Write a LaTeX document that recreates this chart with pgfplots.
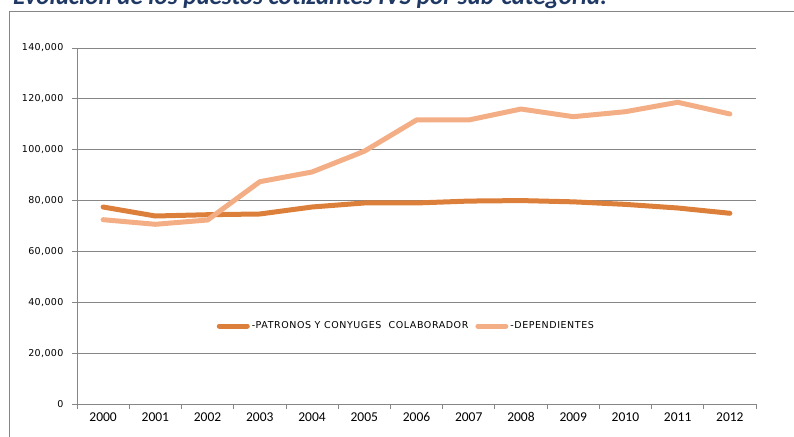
\documentclass[border=0pt]{standalone}
\usepackage{fontspec}
\setmainfont{DejaVu Sans}
\newfontfamily\titlefont{Carlito}
\newfontfamily\xfont{Carlito}
\newfontfamily\yfont[LetterSpace=4]{DejaVu Sans}
\newfontfamily\legfont[LetterSpace=6]{DejaVu Sans}
\usepackage{pgfplots}
\pgfplotsset{compat=1.18}

\definecolor{patcol}{HTML}{DC7F3A}
\definecolor{depcol}{HTML}{F4AE85}
\definecolor{axisgray}{HTML}{868686}
\definecolor{titlenavy}{HTML}{1F3864}

\pgfplotstableread{
year patronos dependientes
0 77470 72480
1 73930 70670
2 74440 72360
3 74720 87420
4 77470 91240
5 79050 99400
6 79050 111690
7 79800 111690
8 80000 116000
9 79500 112990
10 78500 114950
11 77080 118650
12 75000 114050
}\ivsdata

\begin{document}
\begin{tikzpicture}
\useasboundingbox (0,0) rectangle (794pt,436pt);
\draw[axisgray, line width=1pt] (9.5pt,-1pt) -- (9.5pt,424.5pt) -- (795pt,424.5pt);
\node[anchor=base west, inner sep=0, text=titlenavy,
      font=\titlefont\bfseries\itshape\fontsize{25}{30}\selectfont]
  at (13pt,431.5pt) {Evolución de los puestos cotizantes IVS por sub-categoría:};
\begin{axis}[
    at={(77pt,32pt)}, anchor=south west,
    scale only axis,
    width=679pt, height=356pt,
    xmin=-0.5, xmax=12.5,
    ymin=0, ymax=140000,
    axis x line*=bottom, axis y line*=left,
    axis line style={draw=axisgray, line width=0.8pt},
    ytick={0,20000,...,140000},
    ymajorgrids,
    grid style={axisgray, line width=0.8pt},
    scaled y ticks=false,
    y tick label style={font=\yfont\fontsize{9.5}{10}\selectfont, xshift=-5pt,
        /pgf/number format/.cd, fixed, 1000 sep={,}, assume math mode=true},
    xtick={0,...,12},
    xticklabels={2000,2001,2002,2003,2004,2005,2006,2007,2008,2009,2010,2011,2012},
    x tick label style={font=\xfont\fontsize{13.5}{14}\selectfont},
    minor xtick={-0.5,0.5,...,12.5},
    tick align=outside,
    major x tick style={draw=none},
    minor x tick style={axisgray, line width=0.8pt},
    y tick style={axisgray, line width=0.8pt},
    major tick length=5pt, minor tick length=5pt,
    legend style={at={(0.485,0.219)}, anchor=center, draw=none, fill=none,
        font=\legfont\fontsize{9.5}{10}\selectfont,
        legend columns=2,
        /tikz/every even column/.append style={column sep=5pt}},
    legend image code/.code={\draw[#1] (0pt,0pt) -- (28pt,0pt);},
    every axis plot/.append style={line width=5pt, line cap=round, line join=round},
]
\addplot[patcol, no marks] table[x=year, y=patronos] {\ivsdata};
\addlegendentry{-PATRONOS Y CONYUGES\ \ COLABORADOR}
\addplot[depcol, no marks] table[x=year, y=dependientes] {\ivsdata};
\addlegendentry{-DEPENDIENTES}
\end{axis}
\end{tikzpicture}
\end{document}
